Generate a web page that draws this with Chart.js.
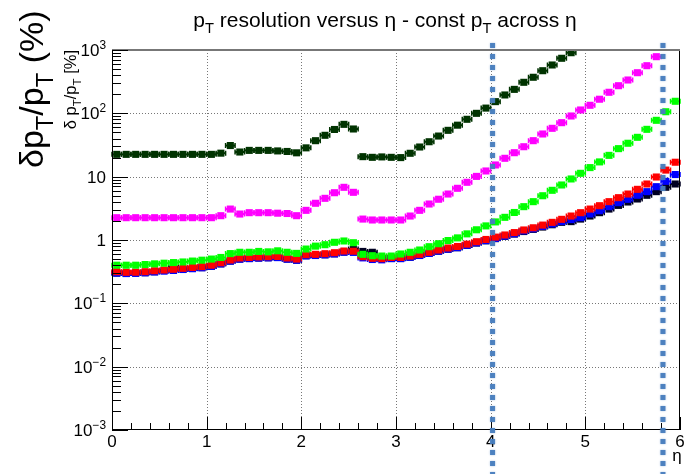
<!DOCTYPE html>
<html lang="en">
<head>
<meta charset="UTF-8">
<title>pT resolution versus eta</title>
<script src="https://cdn.jsdelivr.net/npm/chart.js@4.4.1/dist/chart.umd.min.js"></script>
<style>
  html, body { margin: 0; padding: 0; background: #fff; }
  #wrap { width: 700px; height: 474px; }
</style>
</head>
<body>
<div id="wrap"><canvas id="resChart" width="700" height="474"></canvas></div>
<script>
// eta bin centres (bin width 0.1)
const etaBins = [0.05, 0.15, 0.25, 0.35, 0.45, 0.55, 0.65, 0.75, 0.85, 0.95,
                 1.05, 1.15, 1.25, 1.35, 1.45, 1.55, 1.65, 1.75, 1.85, 1.95,
                 2.05, 2.15, 2.25, 2.35, 2.45, 2.55, 2.65, 2.75, 2.85, 2.95,
                 3.05, 3.15, 3.25, 3.35, 3.45, 3.55, 3.65, 3.75, 3.85, 3.95,
                 4.05, 4.15, 4.25, 4.35, 4.45, 4.55, 4.65, 4.75, 4.85, 4.95,
                 5.05, 5.15, 5.25, 5.35, 5.45, 5.55, 5.65, 5.75, 5.85, 5.95];
const etaHalfBin = 0.05;

// dpT/pT [%] per series
const darkGreenVals = [22.5, 22.5, 22.5, 22.5, 22.5, 22.5, 22.5, 22.5, 22.5, 22.5,
                       22.5, 23.5, 31, 24.5, 26, 26, 26, 25.5, 25, 23.8,
                       28.5, 37, 45, 55.6, 67, 56.6, 20.7, 20.2, 20.5, 20.2,
                       20, 23.4, 29.4, 35.6, 43.8, 53.9, 65, 80.5, 100, 121,
                       153, 195, 239, 309, 371, 471, 580, 740, 906];
const magentaVals = [2.25, 2.25, 2.25, 2.25, 2.25, 2.25, 2.25, 2.25, 2.25, 2.25,
                     2.25, 2.42, 3.08, 2.57, 2.7, 2.7, 2.7, 2.65, 2.62, 2.42,
                     2.94, 3.8, 4.55, 5.58, 6.79, 5.66, 2.14, 2.07, 2.07, 2.07,
                     2.07, 2.39, 2.94, 3.7, 4.4, 5.32, 6.55, 8.15, 10.1, 12.3,
                     15.3, 19.5, 23.9, 29.7, 37, 47.2, 58, 71.2, 90.8, 113,
                     134, 167, 215, 273, 336, 438, 565, 784];
const greenVals = [0.40, 0.40, 0.40, 0.41, 0.42, 0.43, 0.44, 0.45, 0.465, 0.48,
                   0.50, 0.53, 0.61, 0.64, 0.64, 0.66, 0.65, 0.675, 0.64, 0.615,
                   0.72, 0.80, 0.843, 0.92, 0.965, 0.906, 0.594, 0.565, 0.558, 0.558,
                   0.601, 0.64, 0.695, 0.784, 0.874, 0.98, 1.08, 1.25, 1.45, 1.67,
                   1.93, 2.28, 2.72, 3.36, 4.03, 5.0, 6.09, 7.39, 9.2, 11.3,
                   13.9, 17.1, 21.7, 27.7, 33.7, 41.8, 55.9, 77.6, 106, 155];
const redVals = [0.316, 0.309, 0.31, 0.316, 0.327, 0.336, 0.345, 0.357, 0.368, 0.38,
                 0.40, 0.437, 0.483, 0.52, 0.53, 0.54, 0.545, 0.55, 0.52, 0.50,
                 0.586, 0.594, 0.608, 0.63, 0.67, 0.665, 0.545, 0.514, 0.507, 0.53,
                 0.53, 0.558, 0.594, 0.64, 0.695, 0.748, 0.79, 0.86, 0.94, 1.02,
                 1.11, 1.20, 1.31, 1.44, 1.56, 1.72, 1.90, 2.12, 2.39, 2.70,
                 3.08, 3.48, 4.03, 4.66, 5.32, 6.31, 7.66, 9.88, 12.7, 16.9];
const blueVals = [0.30, 0.295, 0.297, 0.303, 0.313, 0.322, 0.33, 0.342, 0.352, 0.364,
                  0.383, 0.42, 0.463, 0.498, 0.508, 0.517, 0.522, 0.527, 0.498, 0.479,
                  0.561, 0.569, 0.582, 0.603, 0.642, 0.637, 0.522, 0.492, 0.486, 0.508,
                  0.508, 0.534, 0.569, 0.613, 0.666, 0.716, 0.757, 0.823, 0.9, 0.977,
                  1.06, 1.15, 1.25, 1.39, 1.5, 1.64, 1.79, 1.95, 2.1, 2.25,
                  2.57, 2.9, 3.36, 3.88, 4.39, 5.08, 5.8, 6.95, 8.44, 10.8];
const blackVals = [0.30, 0.296, 0.30, 0.305, 0.315, 0.33, 0.37, 0.345, 0.355, 0.366,
                   0.385, 0.42, 0.465, 0.5, 0.51, 0.52, 0.525, 0.53, 0.50, 0.48,
                   0.565, 0.57, 0.585, 0.605, 0.645, 0.72, 0.66, 0.64, 0.52, 0.51,
                   0.51, 0.535, 0.57, 0.615, 0.665, 0.715, 0.755, 0.82, 0.895, 0.97,
                   1.05, 1.14, 1.24, 1.36, 1.47, 1.6, 1.74, 1.9, 1.95, 2.14,
                   2.39, 2.70, 3.08, 3.52, 3.98, 4.44, 5.08, 5.8, 6.8, 7.66];

// axis ticks
const xTickLabels = ['0', '1', '2', '3', '4', '5', '6'];
const yDecadeExps = [-3, -2, -1, 0, 1, 2, 3];
// eta positions of the two overlaid blue dashed markers
const etaCutLines = [4.02, 5.82];

const FONT = '"Liberation Sans", Arial, Helvetica, sans-serif';

function toPoints(vals) {
    return vals.map((v, i) => ({ x: etaBins[i], y: v }));
}

function series(vals, color, order) {
    return {
        data: toPoints(vals),
        showLine: false,
        pointStyle: 'rect',
        pointRadius: 5,
        pointHoverRadius: 5,
        pointBorderWidth: 0,
        backgroundColor: color,
        borderColor: color,
        clip: false,
        order: order
    };
}

function drawRich(ctx, parts, x, y, size, align) {
    let w = 0;
    parts.forEach(p => {
        ctx.font = ((p.sub || p.sup) ? size * 0.7 : size) + 'px ' + FONT;
        w += ctx.measureText(p.t).width;
    });
    let cx = align === 'right' ? x - w : (align === 'center' ? x - w / 2 : x);
    ctx.textAlign = 'left';
    ctx.textBaseline = 'alphabetic';
    parts.forEach(p => {
        const s = (p.sub || p.sup) ? size * 0.7 : size;
        ctx.font = s + 'px ' + FONT;
        const dy = p.sub ? size * 0.3 : (p.sup ? -size * 0.42 : 0);
        ctx.fillText(p.t, cx, y + dy);
        cx += ctx.measureText(p.t).width;
    });
}

const rootStyle = {
    id: 'rootStyle',
    beforeDatasetsDraw(chart) {
        const ctx = chart.ctx;
        const a = chart.chartArea;
        const xs = chart.scales.x, ys = chart.scales.y;
        ctx.save();
        // dotted grid
        ctx.strokeStyle = '#777';
        ctx.lineWidth = 1;
        ctx.setLineDash([1, 2]);
        for (let i = 1; i < xTickLabels.length - 1; i++) {
            const px = Math.round(xs.getPixelForValue(Number(xTickLabels[i]))) + 0.5;
            ctx.beginPath(); ctx.moveTo(px, a.top); ctx.lineTo(px, a.bottom); ctx.stroke();
        }
        yDecadeExps.slice(1, -1).forEach(e => {
            const py = Math.round(ys.getPixelForValue(Math.pow(10, e))) + 0.5;
            ctx.beginPath(); ctx.moveTo(a.left, py); ctx.lineTo(a.right, py); ctx.stroke();
        });
        ctx.setLineDash([]);

        // horizontal error bars (bin width)
        chart.data.datasets.forEach((ds, di) => {
            const meta = chart.getDatasetMeta(di);
            ctx.strokeStyle = ds.backgroundColor;
            meta.data.forEach((el, i) => {
                const d = ds.data[i];
                const xl = xs.getPixelForValue(d.x - etaHalfBin);
                const xr = xs.getPixelForValue(d.x + etaHalfBin);
                ctx.lineWidth = 2;
                ctx.beginPath(); ctx.moveTo(xl, el.y); ctx.lineTo(xr, el.y); ctx.stroke();
                ctx.lineWidth = 1.5;
                ctx.beginPath();
                ctx.moveTo(xl, el.y - 2.5); ctx.lineTo(xl, el.y + 2.5);
                ctx.moveTo(xr, el.y - 2.5); ctx.lineTo(xr, el.y + 2.5);
                ctx.stroke();
            });
        });
        ctx.restore();
    },
    afterDatasetsDraw(chart) {
        const ctx = chart.ctx;
        const a = chart.chartArea;
        const xs = chart.scales.x, ys = chart.scales.y;
        ctx.save();

        // frame
        ctx.strokeStyle = '#000';
        ctx.lineWidth = 1;
        ctx.strokeRect(a.left + 0.5, a.top + 0.5, a.right - a.left - 1, a.bottom - a.top - 1);
        ctx.strokeStyle = '#777';
        ctx.lineWidth = 2;
        ctx.beginPath(); ctx.moveTo(a.left, a.top); ctx.lineTo(a.right, a.top); ctx.stroke();

        // y ticks (log)
        ctx.strokeStyle = '#000';
        ctx.lineWidth = 1;
        yDecadeExps.forEach((e, k) => {
            const py = Math.round(ys.getPixelForValue(Math.pow(10, e))) + 0.5;
            ctx.beginPath(); ctx.moveTo(a.left, py); ctx.lineTo(a.left + 16, py); ctx.stroke();
            if (k < yDecadeExps.length - 1) {
                for (let m = 2; m <= 9; m++) {
                    const pm = Math.round(ys.getPixelForValue(m * Math.pow(10, e))) + 0.5;
                    ctx.beginPath(); ctx.moveTo(a.left, pm); ctx.lineTo(a.left + 9, pm); ctx.stroke();
                }
            }
        });
        // x ticks
        for (let i = 0; i < xTickLabels.length; i++) {
            const v = Number(xTickLabels[i]);
            const px = Math.round(xs.getPixelForValue(v)) + 0.5;
            ctx.beginPath(); ctx.moveTo(px, a.bottom); ctx.lineTo(px, a.bottom - 13); ctx.stroke();
            if (i < xTickLabels.length - 1) {
                for (let m = 1; m < 5; m++) {
                    const pm = Math.round(xs.getPixelForValue(v + m * 0.2)) + 0.5;
                    ctx.beginPath(); ctx.moveTo(pm, a.bottom); ctx.lineTo(pm, a.bottom - 7); ctx.stroke();
                }
            }
        }

        // tick labels
        ctx.fillStyle = '#000';
        yDecadeExps.forEach(e => {
            const py = ys.getPixelForValue(Math.pow(10, e));
            let parts;
            if (e === 0) parts = [{ t: '1' }];
            else if (e === 1) parts = [{ t: '10' }];
            else parts = [{ t: '10' }, { t: e < 0 ? '\u2212' + (-e) : String(e), sup: true }];
            drawRich(ctx, parts, 106, py + 6, 17, 'right');
        });
        xTickLabels.forEach(l => {
            const px = xs.getPixelForValue(Number(l));
            drawRich(ctx, [{ t: l }], px, a.bottom + 17, 17, 'center');
        });
        drawRich(ctx, [{ t: '\u03b7' }], 677, 461, 17, 'center');

        // title
        drawRich(ctx, [{ t: 'p' }, { t: 'T', sub: true }, { t: ' resolution versus \u03b7 - const p' },
                       { t: 'T', sub: true }, { t: ' across \u03b7' }], 385, 27, 21, 'center');

        // y axis titles
        ctx.save();
        ctx.translate(43, 168);
        ctx.rotate(-Math.PI / 2);
        drawRich(ctx, [{ t: '\u03b4p' }, { t: 'T', sub: true }, { t: '/p' }, { t: 'T', sub: true }, { t: ' (%)' }],
                 0, 0, 34, 'left');
        ctx.restore();
        ctx.save();
        ctx.translate(76, 50);
        ctx.rotate(-Math.PI / 2);
        drawRich(ctx, [{ t: '\u03b4 p' }, { t: 'T', sub: true }, { t: '/p' }, { t: 'T', sub: true }, { t: ' [%]' }],
                 0, 0, 16.5, 'right');
        ctx.restore();

        // blue dashed overlay lines
        ctx.strokeStyle = 'rgba(72, 125, 190, 0.95)';
        ctx.lineWidth = 5;
        ctx.setLineDash([5, 6]);
        ctx.shadowColor = 'rgba(72, 125, 190, 0.5)';
        ctx.shadowBlur = 2;
        etaCutLines.forEach(eta => {
            const px = xs.getPixelForValue(eta);
            ctx.beginPath(); ctx.moveTo(px, 43); ctx.lineTo(px, 474); ctx.stroke();
        });
        ctx.restore();
    }
};

const ctx = document.getElementById('resChart').getContext('2d');
new Chart(ctx, {
    type: 'scatter',
    data: {
        datasets: [
            series(blackVals, '#000022', 5),
            series(blueVals, '#0000ff', 4),
            series(redVals, '#ff0000', 3),
            series(greenVals, '#00ff00', 2),
            series(magentaVals, '#ff00ff', 1),
            series(darkGreenVals, '#003300', 0)
        ]
    },
    options: {
        responsive: false,
        animation: false,
        layout: { padding: { left: 112, top: 50, right: 20, bottom: 44 } },
        plugins: { legend: { display: false }, tooltip: { enabled: false } },
        scales: {
            x: { type: 'linear', min: 0, max: 6, display: false },
            y: { type: 'logarithmic', min: 0.001, max: 1000, display: false }
        }
    },
    plugins: [rootStyle]
});
</script>
</body>
</html>
